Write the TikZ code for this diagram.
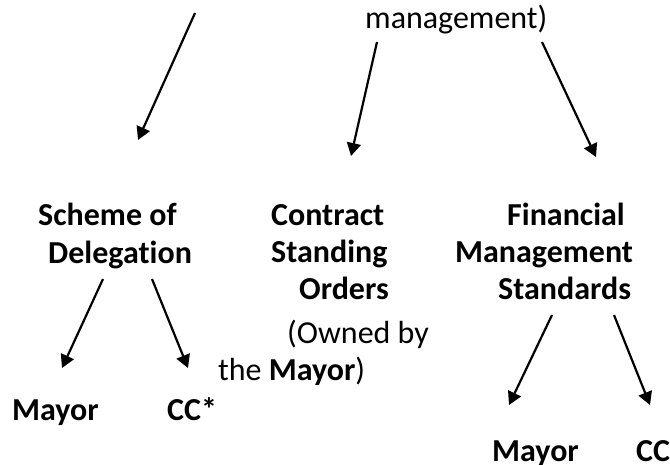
\documentclass[tikz,border=0pt]{standalone}
\usepackage{fontspec}
\setmainfont{Carlito}[Ligatures=CommonOff]
\usetikzlibrary{arrows.meta}
\begin{document}
\begin{tikzpicture}[x=1pt,y=-1pt,
  txt/.style={anchor=base west,inner sep=0pt,font=\fontsize{32}{38}\selectfont},
  btxt/.style={anchor=base west,inner sep=0pt,font=\fontsize{32}{38}\selectfont\bfseries},
  arr/.style={line width=2.2pt,-{Triangle[length=13pt,width=14pt]}}]
\useasboundingbox (0,0) rectangle (670,464);
\clip (0,0) rectangle (670,464);
% top text
\node[txt] (mgmt) at (365,28) {management)};
% scheme of delegation
\node[btxt] (sod1) at (38,225) {Scheme of};
\node[btxt] (sod2) at (48,263) {Delegation};
% contract standing orders
\node[btxt] (cso1) at (271,225) {Contract};
\node[btxt] (cso2) at (271,262) {Standing};
\node[btxt] (cso3) at (299,299) {Orders};
\node[txt] (cso4) at (287,343) {(Owned by};
\node[txt] (cso5) at (218,380) {the \textbf{Mayor})};
% financial management standards
\node[btxt] (fms1) at (507,225) {Financial};
\node[btxt] (fms2) at (455,262) {Management};
\node[btxt] (fms3) at (498,299) {Standards};
% leaves
\node[btxt] (may1) at (12,420) {Mayor};
\node[btxt] (cc1) at (167,420) {CC*};
\node[btxt] (may2) at (492,461) {Mayor};
\node[btxt] (cc2) at (636,461) {CC};
% arrow ends
\coordinate (a1s) at (195,13);  \coordinate (a1e) at (138,140);
\coordinate (a2s) at (377,42);  \coordinate (a2e) at (351,156);
\coordinate (a3s) at (542,42);  \coordinate (a3e) at (596,157);
\coordinate (a4s) at (103,279); \coordinate (a4e) at (62,368);
\coordinate (a5s) at (152,279); \coordinate (a5e) at (188,368);
\coordinate (a6s) at (552,315); \coordinate (a6e) at (509,405);
\coordinate (a7s) at (614,315); \coordinate (a7e) at (650,405);
\draw[arr] (a1s) -- (a1e);
\draw[arr] (a2s) -- (a2e);
\draw[arr] (a3s) -- (a3e);
\draw[arr] (a4s) -- (a4e);
\draw[arr] (a5s) -- (a5e);
\draw[arr] (a6s) -- (a6e);
\draw[arr] (a7s) -- (a7e);
\end{tikzpicture}
\end{document}
